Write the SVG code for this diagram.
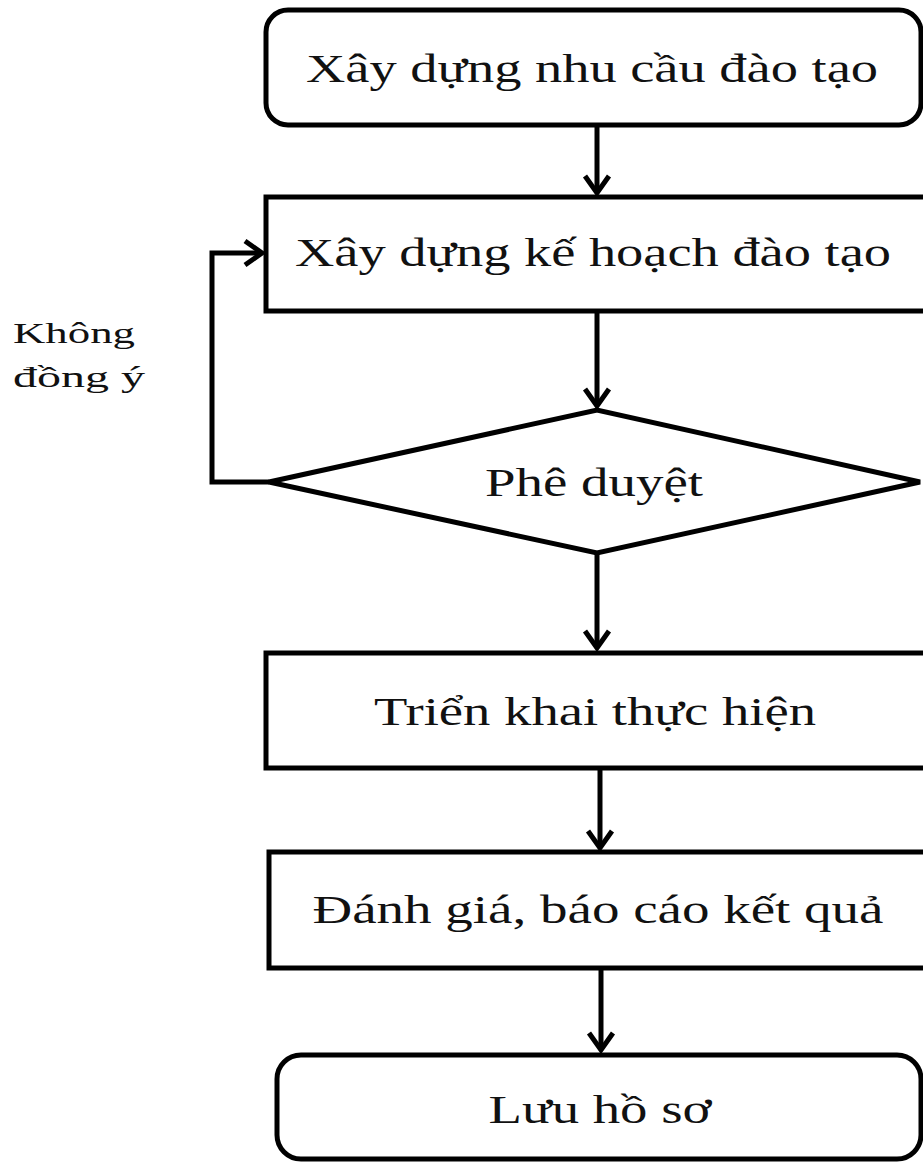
<svg xmlns="http://www.w3.org/2000/svg" width="923" height="1163" viewBox="0 0 923 1163">
<style>
.box{fill:#fff;stroke:#000;stroke-width:5}
.lbl{font-family:"Liberation Serif","Times New Roman",serif;font-size:40px;fill:#111;text-anchor:middle}
.side{font-family:"Liberation Serif","Times New Roman",serif;font-size:30px;fill:#111}
.con{fill:none;stroke:#000;stroke-width:5;marker-end:url(#arr)}
</style>
<defs>
<marker id="arr" markerUnits="userSpaceOnUse" viewBox="-22 -16 30 32" refX="0" refY="0" markerWidth="30" markerHeight="32" orient="auto" overflow="visible">
<path d="M-17,-12 L0,0 L-17,12" fill="none" stroke="#000" stroke-width="5"/>
</marker>
</defs>
<rect width="923" height="1163" fill="#fff"/>
<g id="connectors">
<path class="con" d="M597,125 L597,193"/>
<path class="con" d="M597,312 L597,406"/>
<path class="con" d="M597,553 L597,648"/>
<path class="con" d="M600,768 L600,848"/>
<path class="con" d="M601,968 L601,1050"/>
<path class="con" d="M269,482 L212,482 L212,253 L262,253"/>
</g>
<g id="n1">
<rect class="box" x="266" y="10" width="655" height="115" rx="22"/>
<text class="lbl" x="592" y="82" textLength="572" lengthAdjust="spacingAndGlyphs">Xây dựng nhu cầu đào tạo</text>
</g>
<g id="n2">
<rect class="box" x="266" y="197" width="680" height="114"/>
<text class="lbl" x="593" y="266" textLength="596" lengthAdjust="spacingAndGlyphs">Xây dựng kế hoạch đào tạo</text>
</g>
<g id="n3">
<polygon class="box" points="269,482 597,410 920,482 597,553"/>
<text class="lbl" x="594" y="496" textLength="218" lengthAdjust="spacingAndGlyphs">Phê duyệt</text>
</g>
<g id="n4">
<rect class="box" x="266" y="653" width="680" height="115"/>
<text class="lbl" x="595" y="725" textLength="442" lengthAdjust="spacingAndGlyphs">Triển khai thực hiện</text>
</g>
<g id="n5">
<rect class="box" x="269" y="852" width="680" height="116"/>
<text class="lbl" x="598" y="923" textLength="571" lengthAdjust="spacingAndGlyphs">Đánh giá, báo cáo kết quả</text>
</g>
<g id="n6">
<rect class="box" x="277" y="1055" width="644" height="104" rx="24"/>
<text class="lbl" x="600" y="1123" textLength="223" lengthAdjust="spacingAndGlyphs">Lưu hồ sơ</text>
</g>
<g id="label-khong-dong-y">
<text class="side" x="13" y="343" textLength="122" lengthAdjust="spacingAndGlyphs">Không</text>
<text class="side" x="13" y="387" textLength="132" lengthAdjust="spacingAndGlyphs">đồng ý</text>
</g>
</svg>
